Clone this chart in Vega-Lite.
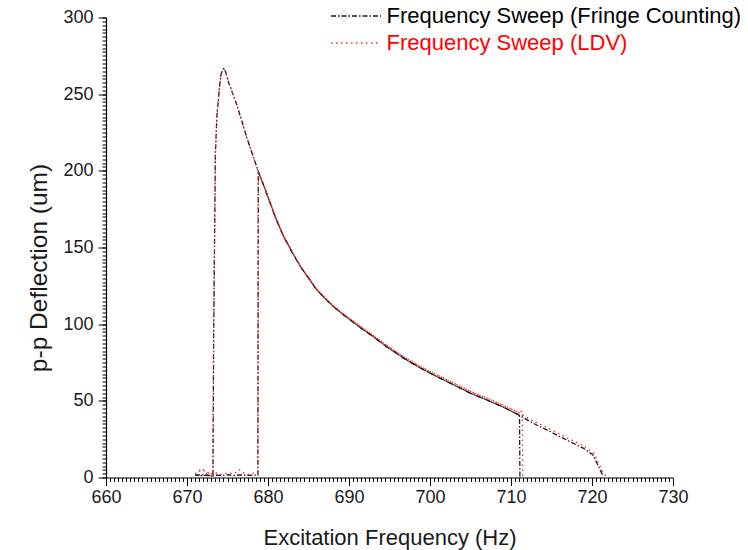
{
  "$schema": "https://vega.github.io/schema/vega-lite/v6.json",
  "autosize": {"type": "none"},
  "padding": {"left": 106, "top": 17.5, "right": 75, "bottom": 72.5},
  "width": 567,
  "height": 460,
  "background": "white",
  "config": {
    "view": {"stroke": null},
    "font": "Liberation Sans",
    "axis": {"domainColor": "#000", "tickColor": "#000", "labelColor": "#1a1a1a", "titleColor": "#1a1a1a", "grid": false, "labelFont": "Liberation Sans", "titleFont": "Liberation Sans", "titleFontWeight": "normal"}
  },
  "data": {"values": [
    {"s":"Frequency Sweep (Fringe Counting)","p":"up","i":1,"f":671.0,"v":1.5},
    {"s":"Frequency Sweep (Fringe Counting)","p":"up","i":2,"f":671.8,"v":1.8},
    {"s":"Frequency Sweep (Fringe Counting)","p":"up","i":3,"f":672.6,"v":1.3},
    {"s":"Frequency Sweep (Fringe Counting)","p":"up","i":4,"f":673.4,"v":1.7},
    {"s":"Frequency Sweep (Fringe Counting)","p":"up","i":5,"f":674.2,"v":1.4},
    {"s":"Frequency Sweep (Fringe Counting)","p":"up","i":6,"f":675.0,"v":1.8},
    {"s":"Frequency Sweep (Fringe Counting)","p":"up","i":7,"f":675.8,"v":1.3},
    {"s":"Frequency Sweep (Fringe Counting)","p":"up","i":8,"f":676.6,"v":1.7},
    {"s":"Frequency Sweep (Fringe Counting)","p":"up","i":9,"f":677.4,"v":1.4},
    {"s":"Frequency Sweep (Fringe Counting)","p":"up","i":10,"f":678.2,"v":1.6},
    {"s":"Frequency Sweep (Fringe Counting)","p":"up","i":11,"f":678.75,"v":1.5},
    {"s":"Frequency Sweep (Fringe Counting)","p":"up","i":12,"f":678.8,"v":199.6},
    {"s":"Frequency Sweep (Fringe Counting)","p":"up","i":13,"f":679.5,"v":190},
    {"s":"Frequency Sweep (Fringe Counting)","p":"up","i":14,"f":680.3,"v":178.5},
    {"s":"Frequency Sweep (Fringe Counting)","p":"up","i":15,"f":681.0,"v":168.5},
    {"s":"Frequency Sweep (Fringe Counting)","p":"up","i":16,"f":681.9,"v":157.5},
    {"s":"Frequency Sweep (Fringe Counting)","p":"up","i":17,"f":683.0,"v":146.7},
    {"s":"Frequency Sweep (Fringe Counting)","p":"up","i":18,"f":684.0,"v":137.6},
    {"s":"Frequency Sweep (Fringe Counting)","p":"up","i":19,"f":685.0,"v":130},
    {"s":"Frequency Sweep (Fringe Counting)","p":"up","i":20,"f":686.0,"v":122.5},
    {"s":"Frequency Sweep (Fringe Counting)","p":"up","i":21,"f":687.0,"v":117},
    {"s":"Frequency Sweep (Fringe Counting)","p":"up","i":22,"f":688.0,"v":111.8},
    {"s":"Frequency Sweep (Fringe Counting)","p":"up","i":23,"f":689.0,"v":107.4},
    {"s":"Frequency Sweep (Fringe Counting)","p":"up","i":24,"f":690.1,"v":103},
    {"s":"Frequency Sweep (Fringe Counting)","p":"up","i":25,"f":691.5,"v":97.4},
    {"s":"Frequency Sweep (Fringe Counting)","p":"up","i":26,"f":693.0,"v":91.8},
    {"s":"Frequency Sweep (Fringe Counting)","p":"up","i":27,"f":694.6,"v":85.5},
    {"s":"Frequency Sweep (Fringe Counting)","p":"up","i":28,"f":696.7,"v":78},
    {"s":"Frequency Sweep (Fringe Counting)","p":"up","i":29,"f":698.8,"v":71.4},
    {"s":"Frequency Sweep (Fringe Counting)","p":"up","i":30,"f":700.8,"v":65.9},
    {"s":"Frequency Sweep (Fringe Counting)","p":"up","i":31,"f":702.9,"v":60.5},
    {"s":"Frequency Sweep (Fringe Counting)","p":"up","i":32,"f":704.9,"v":55.2},
    {"s":"Frequency Sweep (Fringe Counting)","p":"up","i":33,"f":707.0,"v":50.6},
    {"s":"Frequency Sweep (Fringe Counting)","p":"up","i":34,"f":709.0,"v":46},
    {"s":"Frequency Sweep (Fringe Counting)","p":"up","i":35,"f":710.7,"v":41.5},
    {"s":"Frequency Sweep (Fringe Counting)","p":"up","i":36,"f":712.7,"v":35.5},
    {"s":"Frequency Sweep (Fringe Counting)","p":"up","i":37,"f":714.8,"v":30},
    {"s":"Frequency Sweep (Fringe Counting)","p":"up","i":38,"f":716.8,"v":24.6},
    {"s":"Frequency Sweep (Fringe Counting)","p":"up","i":39,"f":718.9,"v":19.2},
    {"s":"Frequency Sweep (Fringe Counting)","p":"up","i":40,"f":720.1,"v":14.8},
    {"s":"Frequency Sweep (Fringe Counting)","p":"up","i":41,"f":720.6,"v":9.5},
    {"s":"Frequency Sweep (Fringe Counting)","p":"up","i":42,"f":721.0,"v":5},
    {"s":"Frequency Sweep (Fringe Counting)","p":"up","i":43,"f":721.4,"v":0.7},
    {"s":"Frequency Sweep (Fringe Counting)","p":"down","i":1,"f":711.1,"v":0.7},
    {"s":"Frequency Sweep (Fringe Counting)","p":"down","i":2,"f":711.05,"v":41},
    {"s":"Frequency Sweep (Fringe Counting)","p":"down","i":3,"f":710.7,"v":41.5},
    {"s":"Frequency Sweep (Fringe Counting)","p":"down","i":4,"f":709.0,"v":46},
    {"s":"Frequency Sweep (Fringe Counting)","p":"down","i":5,"f":707.0,"v":50.6},
    {"s":"Frequency Sweep (Fringe Counting)","p":"down","i":6,"f":704.9,"v":55.2},
    {"s":"Frequency Sweep (Fringe Counting)","p":"down","i":7,"f":702.9,"v":60.5},
    {"s":"Frequency Sweep (Fringe Counting)","p":"down","i":8,"f":700.8,"v":65.9},
    {"s":"Frequency Sweep (Fringe Counting)","p":"down","i":9,"f":698.8,"v":71.4},
    {"s":"Frequency Sweep (Fringe Counting)","p":"down","i":10,"f":696.7,"v":78},
    {"s":"Frequency Sweep (Fringe Counting)","p":"down","i":11,"f":694.6,"v":85.5},
    {"s":"Frequency Sweep (Fringe Counting)","p":"down","i":12,"f":693.0,"v":91.8},
    {"s":"Frequency Sweep (Fringe Counting)","p":"down","i":13,"f":691.5,"v":97.4},
    {"s":"Frequency Sweep (Fringe Counting)","p":"down","i":14,"f":690.1,"v":103},
    {"s":"Frequency Sweep (Fringe Counting)","p":"down","i":15,"f":689.0,"v":107.4},
    {"s":"Frequency Sweep (Fringe Counting)","p":"down","i":16,"f":688.0,"v":111.8},
    {"s":"Frequency Sweep (Fringe Counting)","p":"down","i":17,"f":687.0,"v":117},
    {"s":"Frequency Sweep (Fringe Counting)","p":"down","i":18,"f":686.0,"v":122.5},
    {"s":"Frequency Sweep (Fringe Counting)","p":"down","i":19,"f":685.0,"v":130},
    {"s":"Frequency Sweep (Fringe Counting)","p":"down","i":20,"f":684.0,"v":137.6},
    {"s":"Frequency Sweep (Fringe Counting)","p":"down","i":21,"f":683.0,"v":146.7},
    {"s":"Frequency Sweep (Fringe Counting)","p":"down","i":22,"f":681.9,"v":157.5},
    {"s":"Frequency Sweep (Fringe Counting)","p":"down","i":23,"f":681.0,"v":168.5},
    {"s":"Frequency Sweep (Fringe Counting)","p":"down","i":24,"f":680.3,"v":178.5},
    {"s":"Frequency Sweep (Fringe Counting)","p":"down","i":25,"f":679.5,"v":190},
    {"s":"Frequency Sweep (Fringe Counting)","p":"down","i":26,"f":678.8,"v":199.6},
    {"s":"Frequency Sweep (Fringe Counting)","p":"down","i":27,"f":678.1,"v":210.5},
    {"s":"Frequency Sweep (Fringe Counting)","p":"down","i":28,"f":677.4,"v":221.4},
    {"s":"Frequency Sweep (Fringe Counting)","p":"down","i":29,"f":676.8,"v":232},
    {"s":"Frequency Sweep (Fringe Counting)","p":"down","i":30,"f":676.15,"v":243},
    {"s":"Frequency Sweep (Fringe Counting)","p":"down","i":31,"f":675.6,"v":251},
    {"s":"Frequency Sweep (Fringe Counting)","p":"down","i":32,"f":675.1,"v":258.3},
    {"s":"Frequency Sweep (Fringe Counting)","p":"down","i":33,"f":674.8,"v":264},
    {"s":"Frequency Sweep (Fringe Counting)","p":"down","i":34,"f":674.65,"v":266},
    {"s":"Frequency Sweep (Fringe Counting)","p":"down","i":35,"f":674.5,"v":266.6},
    {"s":"Frequency Sweep (Fringe Counting)","p":"down","i":36,"f":674.35,"v":265.5},
    {"s":"Frequency Sweep (Fringe Counting)","p":"down","i":37,"f":674.2,"v":262.7},
    {"s":"Frequency Sweep (Fringe Counting)","p":"down","i":38,"f":674.0,"v":254},
    {"s":"Frequency Sweep (Fringe Counting)","p":"down","i":39,"f":673.7,"v":236.6},
    {"s":"Frequency Sweep (Fringe Counting)","p":"down","i":40,"f":673.5,"v":210.5},
    {"s":"Frequency Sweep (Fringe Counting)","p":"down","i":41,"f":673.45,"v":180},
    {"s":"Frequency Sweep (Fringe Counting)","p":"down","i":42,"f":673.3,"v":100},
    {"s":"Frequency Sweep (Fringe Counting)","p":"down","i":43,"f":673.2,"v":0.8},
    {"s":"Frequency Sweep (Fringe Counting)","p":"down","i":44,"f":672.5,"v":1.5},
    {"s":"Frequency Sweep (Fringe Counting)","p":"down","i":45,"f":671.8,"v":1.2},
    {"s":"Frequency Sweep (Fringe Counting)","p":"down","i":46,"f":671.0,"v":1.5},
    {"s":"Frequency Sweep (LDV)","p":"up","i":1,"f":671.0,"v":2.5},
    {"s":"Frequency Sweep (LDV)","p":"up","i":2,"f":671.5,"v":4.5},
    {"s":"Frequency Sweep (LDV)","p":"up","i":3,"f":671.9,"v":6},
    {"s":"Frequency Sweep (LDV)","p":"up","i":4,"f":672.3,"v":3},
    {"s":"Frequency Sweep (LDV)","p":"up","i":5,"f":672.8,"v":2.2},
    {"s":"Frequency Sweep (LDV)","p":"up","i":6,"f":673.5,"v":3.2},
    {"s":"Frequency Sweep (LDV)","p":"up","i":7,"f":674.2,"v":2},
    {"s":"Frequency Sweep (LDV)","p":"up","i":8,"f":675.0,"v":3},
    {"s":"Frequency Sweep (LDV)","p":"up","i":9,"f":675.8,"v":2.5},
    {"s":"Frequency Sweep (LDV)","p":"up","i":10,"f":676.5,"v":5},
    {"s":"Frequency Sweep (LDV)","p":"up","i":11,"f":677.0,"v":3},
    {"s":"Frequency Sweep (LDV)","p":"up","i":12,"f":677.6,"v":2},
    {"s":"Frequency Sweep (LDV)","p":"up","i":13,"f":678.2,"v":2.8},
    {"s":"Frequency Sweep (LDV)","p":"up","i":14,"f":678.75,"v":3},
    {"s":"Frequency Sweep (LDV)","p":"up","i":15,"f":678.8,"v":199},
    {"s":"Frequency Sweep (LDV)","p":"up","i":16,"f":679.5,"v":190.5},
    {"s":"Frequency Sweep (LDV)","p":"up","i":17,"f":680.3,"v":179},
    {"s":"Frequency Sweep (LDV)","p":"up","i":18,"f":681.0,"v":169},
    {"s":"Frequency Sweep (LDV)","p":"up","i":19,"f":681.9,"v":158},
    {"s":"Frequency Sweep (LDV)","p":"up","i":20,"f":683.0,"v":147.2},
    {"s":"Frequency Sweep (LDV)","p":"up","i":21,"f":684.0,"v":138},
    {"s":"Frequency Sweep (LDV)","p":"up","i":22,"f":685.0,"v":130.5},
    {"s":"Frequency Sweep (LDV)","p":"up","i":23,"f":686.0,"v":123},
    {"s":"Frequency Sweep (LDV)","p":"up","i":24,"f":687.0,"v":117.5},
    {"s":"Frequency Sweep (LDV)","p":"up","i":25,"f":688.0,"v":112.3},
    {"s":"Frequency Sweep (LDV)","p":"up","i":26,"f":689.0,"v":108},
    {"s":"Frequency Sweep (LDV)","p":"up","i":27,"f":690.1,"v":103.6},
    {"s":"Frequency Sweep (LDV)","p":"up","i":28,"f":691.5,"v":98.2},
    {"s":"Frequency Sweep (LDV)","p":"up","i":29,"f":693.0,"v":92.6},
    {"s":"Frequency Sweep (LDV)","p":"up","i":30,"f":694.6,"v":86.4},
    {"s":"Frequency Sweep (LDV)","p":"up","i":31,"f":696.7,"v":79},
    {"s":"Frequency Sweep (LDV)","p":"up","i":32,"f":698.8,"v":72.4},
    {"s":"Frequency Sweep (LDV)","p":"up","i":33,"f":700.8,"v":67},
    {"s":"Frequency Sweep (LDV)","p":"up","i":34,"f":702.9,"v":61.6},
    {"s":"Frequency Sweep (LDV)","p":"up","i":35,"f":704.9,"v":56.4},
    {"s":"Frequency Sweep (LDV)","p":"up","i":36,"f":707.0,"v":51.8},
    {"s":"Frequency Sweep (LDV)","p":"up","i":37,"f":709.0,"v":47.3},
    {"s":"Frequency Sweep (LDV)","p":"up","i":38,"f":710.7,"v":43},
    {"s":"Frequency Sweep (LDV)","p":"up","i":39,"f":712.7,"v":37},
    {"s":"Frequency Sweep (LDV)","p":"up","i":40,"f":714.8,"v":31.6},
    {"s":"Frequency Sweep (LDV)","p":"up","i":41,"f":716.8,"v":26.2},
    {"s":"Frequency Sweep (LDV)","p":"up","i":42,"f":718.9,"v":20.8},
    {"s":"Frequency Sweep (LDV)","p":"up","i":43,"f":720.2,"v":16},
    {"s":"Frequency Sweep (LDV)","p":"up","i":44,"f":720.8,"v":9.5},
    {"s":"Frequency Sweep (LDV)","p":"up","i":45,"f":721.2,"v":5},
    {"s":"Frequency Sweep (LDV)","p":"up","i":46,"f":721.7,"v":0.8},
    {"s":"Frequency Sweep (LDV)","p":"down","i":1,"f":711.45,"v":1},
    {"s":"Frequency Sweep (LDV)","p":"down","i":2,"f":711.4,"v":43.2},
    {"s":"Frequency Sweep (LDV)","p":"down","i":3,"f":710.7,"v":43},
    {"s":"Frequency Sweep (LDV)","p":"down","i":4,"f":709.0,"v":47.3},
    {"s":"Frequency Sweep (LDV)","p":"down","i":5,"f":707.0,"v":51.8},
    {"s":"Frequency Sweep (LDV)","p":"down","i":6,"f":704.9,"v":56.4},
    {"s":"Frequency Sweep (LDV)","p":"down","i":7,"f":702.9,"v":61.6},
    {"s":"Frequency Sweep (LDV)","p":"down","i":8,"f":700.8,"v":67},
    {"s":"Frequency Sweep (LDV)","p":"down","i":9,"f":698.8,"v":72.4},
    {"s":"Frequency Sweep (LDV)","p":"down","i":10,"f":696.7,"v":79},
    {"s":"Frequency Sweep (LDV)","p":"down","i":11,"f":694.6,"v":86.4},
    {"s":"Frequency Sweep (LDV)","p":"down","i":12,"f":693.0,"v":92.6},
    {"s":"Frequency Sweep (LDV)","p":"down","i":13,"f":691.5,"v":98.2},
    {"s":"Frequency Sweep (LDV)","p":"down","i":14,"f":690.1,"v":103.6},
    {"s":"Frequency Sweep (LDV)","p":"down","i":15,"f":689.0,"v":108},
    {"s":"Frequency Sweep (LDV)","p":"down","i":16,"f":688.0,"v":112.3},
    {"s":"Frequency Sweep (LDV)","p":"down","i":17,"f":687.0,"v":117.5},
    {"s":"Frequency Sweep (LDV)","p":"down","i":18,"f":686.0,"v":123},
    {"s":"Frequency Sweep (LDV)","p":"down","i":19,"f":685.0,"v":130.5},
    {"s":"Frequency Sweep (LDV)","p":"down","i":20,"f":684.0,"v":138},
    {"s":"Frequency Sweep (LDV)","p":"down","i":21,"f":683.0,"v":147.2},
    {"s":"Frequency Sweep (LDV)","p":"down","i":22,"f":681.9,"v":158},
    {"s":"Frequency Sweep (LDV)","p":"down","i":23,"f":681.0,"v":169},
    {"s":"Frequency Sweep (LDV)","p":"down","i":24,"f":680.3,"v":179},
    {"s":"Frequency Sweep (LDV)","p":"down","i":25,"f":679.5,"v":190.5},
    {"s":"Frequency Sweep (LDV)","p":"down","i":26,"f":678.8,"v":199},
    {"s":"Frequency Sweep (LDV)","p":"down","i":27,"f":678.1,"v":210.5},
    {"s":"Frequency Sweep (LDV)","p":"down","i":28,"f":677.4,"v":221.4},
    {"s":"Frequency Sweep (LDV)","p":"down","i":29,"f":676.8,"v":232},
    {"s":"Frequency Sweep (LDV)","p":"down","i":30,"f":676.15,"v":243},
    {"s":"Frequency Sweep (LDV)","p":"down","i":31,"f":675.6,"v":251},
    {"s":"Frequency Sweep (LDV)","p":"down","i":32,"f":675.1,"v":258.3},
    {"s":"Frequency Sweep (LDV)","p":"down","i":33,"f":674.8,"v":264},
    {"s":"Frequency Sweep (LDV)","p":"down","i":34,"f":674.65,"v":266},
    {"s":"Frequency Sweep (LDV)","p":"down","i":35,"f":674.5,"v":266.6},
    {"s":"Frequency Sweep (LDV)","p":"down","i":36,"f":674.35,"v":265.5},
    {"s":"Frequency Sweep (LDV)","p":"down","i":37,"f":674.2,"v":262.7},
    {"s":"Frequency Sweep (LDV)","p":"down","i":38,"f":674.0,"v":254},
    {"s":"Frequency Sweep (LDV)","p":"down","i":39,"f":673.7,"v":236.6},
    {"s":"Frequency Sweep (LDV)","p":"down","i":40,"f":673.5,"v":210.5},
    {"s":"Frequency Sweep (LDV)","p":"down","i":41,"f":673.45,"v":180},
    {"s":"Frequency Sweep (LDV)","p":"down","i":42,"f":673.3,"v":100},
    {"s":"Frequency Sweep (LDV)","p":"down","i":43,"f":673.2,"v":1},
    {"s":"Frequency Sweep (LDV)","p":"down","i":44,"f":672.5,"v":3.5},
    {"s":"Frequency Sweep (LDV)","p":"down","i":45,"f":671.8,"v":5},
    {"s":"Frequency Sweep (LDV)","p":"down","i":46,"f":671.2,"v":3}
  ]},
  "layer": [
    {
      "mark": {"type": "point", "opacity": 0},
      "encoding": {
        "x": {"field": "f", "type": "quantitative", "scale": {"domain": [660, 730], "nice": false, "zero": false},
          "axis": {"orient": "bottom", "title": null, "labels": false, "domain": false, "tickSize": 4, "tickWidth": 1,
            "values": [660,660.5,661,661.5,662,662.5,663,663.5,664,664.5,665,665.5,666,666.5,667,667.5,668,668.5,669,669.5,670,670.5,671,671.5,672,672.5,673,673.5,674,674.5,675,675.5,676,676.5,677,677.5,678,678.5,679,679.5,680,680.5,681,681.5,682,682.5,683,683.5,684,684.5,685,685.5,686,686.5,687,687.5,688,688.5,689,689.5,690,690.5,691,691.5,692,692.5,693,693.5,694,694.5,695,695.5,696,696.5,697,697.5,698,698.5,699,699.5,700,700.5,701,701.5,702,702.5,703,703.5,704,704.5,705,705.5,706,706.5,707,707.5,708,708.5,709,709.5,710,710.5,711,711.5,712,712.5,713,713.5,714,714.5,715,715.5,716,716.5,717,717.5,718,718.5,719,719.5,720,720.5,721,721.5,722,722.5,723,723.5,724,724.5,725,725.5,726,726.5,727,727.5,728,728.5,729,729.5,730]}},
        "y": {"field": "v", "type": "quantitative", "scale": {"domain": [0, 300], "nice": false},
          "axis": {"orient": "left", "title": null, "labels": false, "domain": false, "tickSize": 4, "tickWidth": 1,
            "values": [0,2.5,5,7.5,10,12.5,15,17.5,20,22.5,25,27.5,30,32.5,35,37.5,40,42.5,45,47.5,50,52.5,55,57.5,60,62.5,65,67.5,70,72.5,75,77.5,80,82.5,85,87.5,90,92.5,95,97.5,100,102.5,105,107.5,110,112.5,115,117.5,120,122.5,125,127.5,130,132.5,135,137.5,140,142.5,145,147.5,150,152.5,155,157.5,160,162.5,165,167.5,170,172.5,175,177.5,180,182.5,185,187.5,190,192.5,195,197.5,200,202.5,205,207.5,210,212.5,215,217.5,220,222.5,225,227.5,230,232.5,235,237.5,240,242.5,245,247.5,250,252.5,255,257.5,260,262.5,265,267.5,270,272.5,275,277.5,280,282.5,285,287.5,290,292.5,295,297.5,300]}}
      }
    },
    {
      "mark": {"type": "line", "strokeWidth": 1.3, "clip": true},
      "encoding": {
        "x": {"field": "f", "type": "quantitative", "scale": {"domain": [660, 730], "nice": false, "zero": false},
          "axis": {"orient": "bottom", "title": "Excitation Frequency (Hz)", "values": [660,670,680,690,700,710,720,730], "tickSize": 8, "tickWidth": 1, "labelFontSize": 18, "labelPadding": 3, "titleFontSize": 22, "titlePadding": 21, "domainWidth": 1.2, "labelFlush": false}},
        "y": {"field": "v", "type": "quantitative", "scale": {"domain": [0, 300], "nice": false},
          "axis": {"orient": "left", "title": "p-p Deflection (um)", "values": [0,50,100,150,200,250,300], "tickSize": 8, "tickWidth": 1, "labelFontSize": 18, "labelPadding": 5, "titleFontSize": 24.5, "titlePadding": 11, "titleY": 250, "domainWidth": 1.2}},
        "color": {"field": "s", "type": "nominal",
          "scale": {"domain": ["Frequency Sweep (Fringe Counting)", "Frequency Sweep (LDV)"], "range": ["#1a1a1a", "#ff2a2a"]},
          "legend": {"title": null, "orient": "none", "legendX": 236.5, "legendY": -15, "padding": 0, "labelFontSize": 22, "labelFont": "Liberation Sans", "labelLimit": 500, "labelOffset": 17, "symbolType": "M-2,0H2", "symbolSize": 625, "symbolStrokeWidth": 1.3, "symbolFillColor": "transparent", "rowPadding": 2,
            "labelColor": {"expr": "datum.label == 'Frequency Sweep (LDV)' ? '#ff0000' : '#000000'"}}},
        "strokeDash": {"field": "s", "type": "nominal",
          "scale": {"domain": ["Frequency Sweep (Fringe Counting)", "Frequency Sweep (LDV)"], "range": [[5, 2, 1.5, 2], [1.5, 3.5]]},
          "legend": {"title": null, "orient": "none", "legendX": 236.5, "legendY": -15, "padding": 0, "labelFontSize": 22, "labelFont": "Liberation Sans", "labelLimit": 500, "labelOffset": 17, "symbolType": "M-2,0H2", "symbolSize": 625, "symbolStrokeWidth": 1.3, "symbolFillColor": "transparent", "rowPadding": 2,
            "labelColor": {"expr": "datum.label == 'Frequency Sweep (LDV)' ? '#ff0000' : '#000000'"}}},
        "detail": {"field": "p", "type": "nominal"},
        "order": {"field": "i", "type": "quantitative"}
      }
    }
  ],
  "resolve": {"axis": {"x": "independent", "y": "independent"}}
}
